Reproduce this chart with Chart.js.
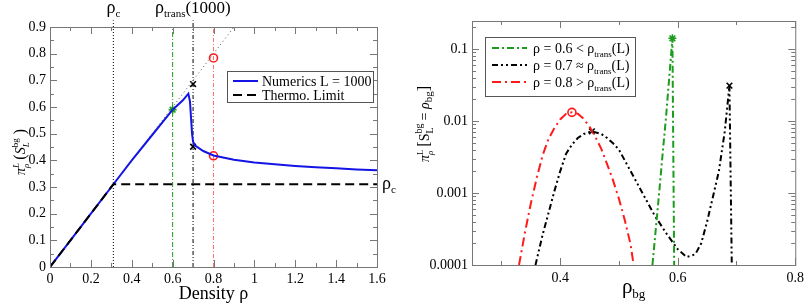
<!DOCTYPE html>
<html>
<head>
<meta charset="utf-8">
<script src="https://cdn.jsdelivr.net/npm/chart.js@4.4.0/dist/chart.umd.min.js"></script>
<style>
  body { margin: 0; background: #fff; }
  canvas { position: absolute; top: 0; }
  #left { left: 0; }
  #right { left: 400px; }
</style>
</head>
<body>
<canvas id="left" width="400" height="306"></canvas>
<canvas id="right" width="409" height="306"></canvas>
<script>
// ---- left panel data ----
const rhoC = 0.31;
const blueX = [0, 0.1, 0.2, 0.3, 0.4, 0.5, 0.6, 0.65, 0.677, 0.685, 0.69, 0.695, 0.70, 0.71, 0.75, 0.8, 0.9, 1.0, 1.1, 1.2, 1.3, 1.4, 1.5, 1.6];
const blueY = [0, 0.1, 0.2, 0.3, 0.4, 0.495, 0.59, 0.625, 0.65, 0.62, 0.56, 0.5, 0.47, 0.455, 0.435, 0.418, 0.402, 0.392, 0.385, 0.379, 0.374, 0.37, 0.366, 0.363];
const thermoX = [0, rhoC, 1.6];
const thermoY = [0, rhoC, rhoC];
const diagX = [0, 0.9];
const diagY = [0, 0.9];
const densities = [0.6, 0.7, 0.8];
const starLeft = [[0.6, 0.59]];
const crossLeft = [[0.7, 0.686], [0.7, 0.451]];
const circleLeft = [[0.8, 0.784], [0.8, 0.417]];
const leftXTicks = [0, 0.2, 0.4, 0.6, 0.8, 1, 1.2, 1.4, 1.6];
const leftYTicks = [0, 0.1, 0.2, 0.3, 0.4, 0.5, 0.6, 0.7, 0.8, 0.9];

// ---- right panel data ----
const greenX = [0.557, 0.565, 0.57, 0.575, 0.58, 0.585, 0.591, 0.594];
const greenY = [1e-4, 5e-4, 1.4e-3, 4e-3, 1.1e-2, 3.5e-2, 0.141, 1e-4];
const blackX = [0.358, 0.37, 0.38, 0.39, 0.40, 0.41, 0.42, 0.43, 0.44, 0.454, 0.47, 0.48, 0.49, 0.50, 0.52, 0.54, 0.56, 0.58, 0.60, 0.615, 0.63, 0.64, 0.65, 0.66, 0.67, 0.68, 0.688, 0.692];
const blackY = [1e-4, 2.6e-4, 5.2e-4, 1.05e-3, 2.0e-3, 3.5e-3, 4.7e-3, 5.8e-3, 6.6e-3, 7.2e-3, 6.6e-3, 5.8e-3, 4.9e-3, 4.0e-3, 2.0e-3, 1.0e-3, 5.0e-4, 2.8e-4, 1.66e-4, 1.29e-4, 1.41e-4, 2.0e-4, 4.0e-4, 8.9e-4, 2.0e-3, 7.1e-3, 3.1e-2, 1e-4];
const redX = [0.33, 0.34, 0.35, 0.36, 0.37, 0.38, 0.39, 0.40, 0.41, 0.42, 0.43, 0.44, 0.45, 0.46, 0.47, 0.48, 0.49, 0.50, 0.51, 0.52, 0.525];
const redY = [1e-4, 2.8e-4, 7.1e-4, 1.6e-3, 3.3e-3, 5.6e-3, 7.9e-3, 1.05e-2, 1.26e-2, 1.32e-2, 1.26e-2, 1.07e-2, 8.3e-3, 6.0e-3, 4.1e-3, 2.5e-3, 1.5e-3, 8.3e-4, 4.2e-4, 1.9e-4, 1e-4];
const starRight = [[0.591, 0.141]];
const crossRight = [[0.454, 0.0072], [0.688, 0.031]];
const circleRight = [[0.42, 0.0132]];
const rightXTicks = [0.4, 0.6, 0.8];
const rightYTicks = [1e-4, 1e-3, 1e-2, 1e-1];

const SERIF = '"Liberation Serif", "DejaVu Serif", serif';
const GREEN = '#1c9c1c';
const BLUE = '#1414e6';
const RED = '#ff1a1a';
const FRAME = '#777';

const zip = (xs, ys) => xs.map((x, i) => ({x: x, y: ys[i]}));
const pts = (arr) => arr.map(p => ({x: p[0], y: p[1]}));

// rich text: parts {t, s (size), dy, i (italic), adv}
function partFont(p) { return (p.i ? 'italic ' : '') + p.s + 'px ' + SERIF; }
function richWidth(ctx, parts) {
  let w = 0;
  parts.forEach(p => { ctx.font = partFont(p); if (p.adv !== false) w += ctx.measureText(p.t).width; });
  return w;
}
function drawRich(ctx, x, y, parts, align) {
  const w = richWidth(ctx, parts);
  let cx = align === 'center' ? x - w / 2 : (align === 'right' ? x - w : x);
  ctx.fillStyle = '#000';
  ctx.textBaseline = 'alphabetic';
  ctx.textAlign = 'left';
  parts.forEach(p => {
    ctx.font = partFont(p);
    ctx.fillText(p.t, cx, y + (p.dy || 0));
    if (p.adv !== false) cx += ctx.measureText(p.t).width;
  });
}
function drawRichRotated(ctx, x, y, parts) {
  ctx.save();
  ctx.translate(x, y);
  ctx.rotate(-Math.PI / 2);
  drawRich(ctx, 0, 0, parts, 'center');
  ctx.restore();
}

// frame with inward ticks on all four sides
function drawFrame(chart, xMajor, xMinor, yMajor, yMinor) {
  const ctx = chart.ctx, a = chart.chartArea;
  const xs = chart.scales.x, ys = chart.scales.y;
  ctx.save();
  ctx.strokeStyle = FRAME;
  ctx.lineWidth = 1;
  ctx.setLineDash([]);
  ctx.strokeRect(a.left + 0.5, a.top + 0.5, a.right - a.left, a.bottom - a.top);
  ctx.beginPath();
  const tickX = (vals, len) => vals.forEach(v => {
    const px = Math.round(xs.getPixelForValue(v)) + 0.5;
    ctx.moveTo(px, a.bottom); ctx.lineTo(px, a.bottom - len);
    ctx.moveTo(px, a.top); ctx.lineTo(px, a.top + len);
  });
  const tickY = (vals, len) => vals.forEach(v => {
    const py = Math.round(ys.getPixelForValue(v)) + 0.5;
    ctx.moveTo(a.left, py); ctx.lineTo(a.left + len, py);
    ctx.moveTo(a.right, py); ctx.lineTo(a.right - len, py);
  });
  tickX(xMajor, 7); tickX(xMinor, 4);
  tickY(yMajor, 7); tickY(yMinor, 4);
  ctx.stroke();
  ctx.restore();
}

function drawLegend(chart, box, rows, x0, x1, tx) {
  const ctx = chart.ctx;
  ctx.save();
  ctx.fillStyle = '#fff';
  ctx.fillRect(box[0], box[1], box[2] - box[0], box[3] - box[1]);
  ctx.strokeStyle = '#555';
  ctx.lineWidth = 1;
  ctx.strokeRect(box[0] + 0.5, box[1] + 0.5, box[2] - box[0], box[3] - box[1]);
  rows.forEach(r => {
    const ds = chart.data.datasets[r.ds];
    ctx.beginPath();
    ctx.strokeStyle = ds.borderColor;
    ctx.lineWidth = ds.borderWidth;
    ctx.setLineDash(ds.borderDash || []);
    ctx.moveTo(x0, r.y); ctx.lineTo(x1, r.y);
    ctx.stroke();
    ctx.setLineDash([]);
    drawRich(ctx, tx, r.y + 5, r.parts, 'left');
  });
  ctx.restore();
}

function lineDs(label, data, color, width, dash, extra) {
  return Object.assign({label: label, data: data, showLine: true, borderColor: color, backgroundColor: color,
    borderWidth: width, borderDash: dash, pointRadius: 0, tension: 0}, extra || {});
}
function markDs(data, style, color, r) {
  return {label: '', data: data, showLine: false, pointStyle: style, pointRadius: r,
    borderColor: color, backgroundColor: 'rgba(0,0,0,0)', pointBorderWidth: 1.6, borderWidth: 1.6};
}

// ---------------- left chart ----------------
const leftDecor = {
  id: 'leftDecor',
  afterDatasetsDraw(chart) {
    const ctx = chart.ctx;
    drawFrame(chart, leftXTicks, [0.1, 0.3, 0.5, 0.7, 0.9, 1.1, 1.3, 1.5], leftYTicks,
      [0.05, 0.15, 0.25, 0.35, 0.45, 0.55, 0.65, 0.75, 0.85]);
    drawLegend(chart, [227, 71, 373, 102], [
      {ds: 1, y: 81, parts: [{t: 'Numerics L = 1000', s: 14}]},
      {ds: 0, y: 95, parts: [{t: 'Thermo. Limit', s: 14}]}
    ], 233, 258, 262);
    const xs = chart.scales.x, ys = chart.scales.y;
    drawRich(ctx, xs.getPixelForValue(rhoC), 13, [{t: 'ρ', s: 18}, {t: 'c', s: 11, dy: 4}], 'center');
    drawRich(ctx, xs.getPixelForValue(0.7) - 38, 13, [{t: 'ρ', s: 18}, {t: 'trans', s: 11, dy: 4}, {t: '(1000)', s: 17}], 'left');
    drawRich(ctx, chart.chartArea.right + 5, ys.getPixelForValue(rhoC) + 5, [{t: 'ρ', s: 18}, {t: 'c', s: 11, dy: 4}], 'left');
    drawRich(ctx, (chart.chartArea.left + chart.chartArea.right) / 2, 299, [{t: 'Density ρ', s: 18}], 'center');
    drawRichRotated(ctx, 25, 152, [
      {t: 'π', s: 14, i: true},
      {t: 'L', s: 9, dy: -6, i: true, adv: false},
      {t: 'ρ', s: 9, dy: 4, i: true},
      {t: ' (', s: 16},
      {t: 'S', s: 14, i: true},
      {t: 'bg', s: 9, dy: -7, adv: false},
      {t: 'L', s: 9, dy: 4, i: true},
      {t: '  )', s: 16}
    ]);
  }
};

new Chart(document.getElementById('left').getContext('2d'), {
  type: 'scatter',
  data: {
    datasets: [
      lineDs('Thermo. Limit', zip(thermoX, thermoY), '#000', 2, [9, 5]),
      lineDs('Numerics L = 1000', zip(blueX, blueY), BLUE, 2, []),
      lineDs('', zip(diagX, diagY), '#555', 1, [1, 3]),
      lineDs('', zip([rhoC, rhoC], [0, 0.925]), '#000', 1, [1, 2], {clip: false}),
      lineDs('', zip([densities[0], densities[0]], [0, 0.9]), GREEN, 1, [5, 2, 1, 2]),
      lineDs('', zip([densities[1], densities[1]], [0, 0.925]), '#000', 1, [4, 2, 1, 2, 1, 2], {clip: false}),
      lineDs('', zip([densities[2], densities[2]], [0, 0.9]), '#ff7070', 1, [4, 2, 1, 2]),
      markDs(pts(starLeft), 'star', GREEN, 4),
      markDs(pts(crossLeft), 'crossRot', '#000', 4),
      markDs(pts(circleLeft), 'circle', RED, 4)
    ]
  },
  options: {
    responsive: false,
    animation: false,
    layout: {padding: {top: 27, right: 23, left: 0, bottom: 0}},
    plugins: {legend: {display: false}, tooltip: {enabled: false}},
    scales: {
      x: {
        type: 'linear', min: 0, max: 1.6,
        grid: {display: false, drawTicks: false}, border: {display: false},
        afterBuildTicks: s => { s.ticks = leftXTicks.map(v => ({value: v})); },
        afterFit: s => { s.height = 39; },
        ticks: {color: '#000', padding: 4, font: {family: SERIF, size: 14}, maxRotation: 0, callback: v => String(v)}
      },
      y: {
        type: 'linear', min: 0, max: 0.9,
        grid: {display: false, drawTicks: false}, border: {display: false},
        afterBuildTicks: s => { s.ticks = leftYTicks.map(v => ({value: v})); },
        afterFit: s => { s.width = 50; },
        ticks: {color: '#000', padding: 4, font: {family: SERIF, size: 14}, callback: v => String(v)}
      }
    }
  },
  plugins: [leftDecor]
});

// ---------------- right chart ----------------
const rightMinorY = [];
[1e-4, 1e-3, 1e-2, 1e-1].forEach(d => { for (let k = 2; k <= 9; k++) if (d * k <= 0.245) rightMinorY.push(d * k); });

const rightDecor = {
  id: 'rightDecor',
  afterDatasetsDraw(chart) {
    const ctx = chart.ctx;
    drawFrame(chart, rightXTicks, [0.3, 0.5, 0.7], rightYTicks, rightMinorY);
    drawLegend(chart, [85, 37, 235, 96], [
      {ds: 0, y: 48, parts: [{t: 'ρ = 0.6 < ρ', s: 14}, {t: 'trans', s: 9, dy: 4}, {t: '(L)', s: 14}]},
      {ds: 1, y: 65, parts: [{t: 'ρ = 0.7 ≈ ρ', s: 14}, {t: 'trans', s: 9, dy: 4}, {t: '(L)', s: 14}]},
      {ds: 2, y: 82, parts: [{t: 'ρ = 0.8 > ρ', s: 14}, {t: 'trans', s: 9, dy: 4}, {t: '(L)', s: 14}]}
    ], 92, 127, 133);
    const a = chart.chartArea;
    drawRich(ctx, (a.left + a.right) / 2, 293, [{t: 'ρ', s: 21}, {t: 'bg', s: 13, dy: 5}], 'center');
    drawRichRotated(ctx, 29, 124, [
      {t: 'π', s: 14, i: true},
      {t: 'L', s: 9, dy: -6, adv: false},
      {t: 'ρ', s: 9, dy: 4, i: true},
      {t: ' [', s: 16},
      {t: 'S', s: 14},
      {t: 'bg', s: 10, dy: -7, adv: false},
      {t: 'L', s: 10, dy: 4},
      {t: '  = ', s: 14},
      {t: 'ρ', s: 14, i: true},
      {t: 'bg', s: 11, dy: 3},
      {t: ']', s: 16}
    ]);
  }
};

new Chart(document.getElementById('right').getContext('2d'), {
  type: 'scatter',
  data: {
    datasets: [
      lineDs('ρ = 0.6 < ρtrans(L)', zip(greenX, greenY), GREEN, 2, [7, 3, 2, 3]),
      lineDs('ρ = 0.7 ≈ ρtrans(L)', zip(blackX, blackY), '#000', 2, [6, 3, 2, 3, 2, 3]),
      lineDs('ρ = 0.8 > ρtrans(L)', zip(redX, redY), RED, 2, [9, 4, 2, 4]),
      markDs(pts(starRight), 'star', GREEN, 4),
      markDs(pts(crossRight), 'crossRot', '#000', 4),
      markDs(pts(circleRight), 'circle', RED, 4)
    ]
  },
  options: {
    responsive: false,
    animation: false,
    layout: {padding: {top: 21, right: 9, left: 0, bottom: 0}},
    plugins: {legend: {display: false}, tooltip: {enabled: false}},
    scales: {
      x: {
        type: 'linear', min: 0.25, max: 0.8,
        grid: {display: false, drawTicks: false}, border: {display: false},
        afterBuildTicks: s => { s.ticks = rightXTicks.map(v => ({value: v})); },
        afterFit: s => { s.height = 41; },
        ticks: {color: '#000', padding: 5, font: {family: SERIF, size: 14}, maxRotation: 0, callback: v => String(v)}
      },
      y: {
        type: 'logarithmic', min: 1e-4, max: 0.245,
        grid: {display: false, drawTicks: false}, border: {display: false},
        afterBuildTicks: s => { s.ticks = rightYTicks.map(v => ({value: v})); },
        afterFit: s => { s.width = 72; },
        ticks: {color: '#000', padding: 4, font: {family: SERIF, size: 14}, callback: v => String(v)}
      }
    }
  },
  plugins: [rightDecor]
});
</script>
</body>
</html>
